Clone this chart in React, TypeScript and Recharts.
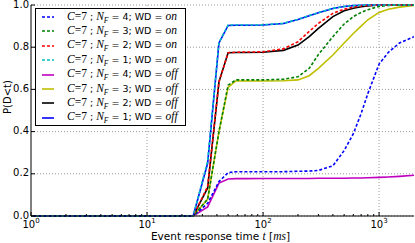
import React from 'react';
import { LineChart, Line, XAxis, YAxis, CartesianGrid, ReferenceLine } from 'recharts';

// event response time t [ms]
const times = [1, 25, 33.3, 41.7, 50, 58.3, 70, 100, 150, 200, 250, 300, 400, 500, 600, 700, 800, 1000, 1200, 1500, 2000];

// P(D<t), watchdog on (dashed)
const nf4On = [0, 0, 0.06, 0.163, 0.205, 0.21, 0.21, 0.21, 0.21, 0.212, 0.213, 0.216, 0.238, 0.31, 0.39, 0.485, 0.58, 0.72, 0.775, 0.82, 0.85];
const nf3On = [0, 0, 0.08, 0.4, 0.62, 0.645, 0.645, 0.645, 0.648, 0.66, 0.7, 0.765, 0.85, 0.91, 0.945, 0.965, 0.978, 0.993, 0.998, 1, 1];
const nf2On = [0, 0, 0.14, 0.636, 0.774, 0.776, 0.777, 0.778, 0.792, 0.826, 0.875, 0.913, 0.96, 0.98, 0.99, 0.996, 0.998, 1, 1, 1, 1];
const nf1On = [0, 0, 0.26, 0.823, 0.905, 0.905, 0.905, 0.906, 0.913, 0.932, 0.95, 0.964, 0.984, 0.993, 0.997, 0.999, 1, 1, 1, 1, 1];

// P(D<t), watchdog off (solid)
const nf4Off = [0, 0, 0.043, 0.156, 0.175, 0.177, 0.177, 0.178, 0.178, 0.178, 0.178, 0.179, 0.179, 0.179, 0.18, 0.18, 0.181, 0.183, 0.185, 0.188, 0.193];
const nf3Off = [0, 0, 0.08, 0.4, 0.61, 0.64, 0.64, 0.64, 0.641, 0.645, 0.665, 0.7, 0.763, 0.82, 0.865, 0.9, 0.93, 0.965, 0.98, 0.99, 0.998];
const nf2Off = [0, 0, 0.133, 0.636, 0.774, 0.775, 0.775, 0.776, 0.785, 0.81, 0.85, 0.889, 0.945, 0.973, 0.985, 0.992, 0.996, 1, 1, 1, 1];
const nf1Off = [0, 0, 0.25, 0.82, 0.903, 0.904, 0.904, 0.905, 0.912, 0.931, 0.949, 0.963, 0.983, 0.993, 0.997, 0.999, 1, 1, 1, 1, 1];

const majorTicks = [1, 10, 100, 1000];
const minorTicks = [2, 3, 4, 5, 6, 7, 8, 9, 20, 30, 40, 50, 60, 70, 80, 90, 200, 300, 400, 500, 600, 700, 800, 900];
const allXTicks = [...majorTicks, ...minorTicks].sort((a, b) => a - b);
const yTicks = [0, 0.2, 0.4, 0.6, 0.8, 1.0];

const series = [
    { key: 'nf4On', nf: 4, wd: 'on', color: '#0000ff', dashed: true, values: nf4On },
    { key: 'nf3On', nf: 3, wd: 'on', color: '#008000', dashed: true, values: nf3On },
    { key: 'nf2On', nf: 2, wd: 'on', color: '#ff0000', dashed: true, values: nf2On },
    { key: 'nf1On', nf: 1, wd: 'on', color: '#00bfbf', dashed: true, values: nf1On },
    { key: 'nf4Off', nf: 4, wd: 'off', color: '#bf00bf', dashed: false, values: nf4Off },
    { key: 'nf3Off', nf: 3, wd: 'off', color: '#bfbf00', dashed: false, values: nf3Off },
    { key: 'nf2Off', nf: 2, wd: 'off', color: '#000000', dashed: false, values: nf2Off },
    { key: 'nf1Off', nf: 1, wd: 'off', color: '#0000ff', dashed: false, values: nf1Off },
];

const data = times.map((t, i) => {
    const row: any = { t };
    series.forEach((s) => { row[s.key] = s.values[i]; });
    return row;
});

const SANS = 'DejaVu Sans, sans-serif';
const MATH = 'Liberation Serif, DejaVu Serif, serif';
const DASH = '3 2';
const GRID = '#999';

const BottomTick = ({ x, y, payload }: any) => {
    const major = majorTicks.includes(payload.value);
    return (
        <g>
            <line x1={x} y1={y} x2={x} y2={y - (major ? 4 : 2)} stroke="#000" />
            {major && (
                <text x={x} y={y + 12} textAnchor="middle" fontSize={10} fontFamily={SANS} fill="#000">
                    10<tspan dy={-5} fontSize={7}>{Math.round(Math.log10(payload.value))}</tspan>
                </text>
            )}
        </g>
    );
};

const TopTick = ({ x, y, payload }: any) => {
    const major = majorTicks.includes(payload.value);
    return <line x1={x} y1={y} x2={x} y2={y + (major ? 4 : 2)} stroke="#000" />;
};

const LeftTick = ({ x, y, payload }: any) => (
    <g>
        <line x1={x} y1={y} x2={x + 4} y2={y} stroke="#000" />
        <text x={x - 2} y={y} dy="0.25em" textAnchor="end" fontSize={10} fontFamily={SANS} fill="#000">
            {payload.value.toFixed(1)}
        </text>
    </g>
);

const RightTick = ({ x, y }: any) => <line x1={x} y1={y} x2={x - 4} y2={y} stroke="#000" />;

const XLabel = ({ viewBox }: any) => {
    const cx = viewBox.x + viewBox.width / 2;
    return (
        <text x={cx - 2} y={240} textAnchor="middle" fontSize={10.5} fontFamily={SANS} fill="#000">
            Event response time <tspan fontFamily={MATH} fontStyle="italic" fontSize={11.5}>t</tspan> [<tspan fontFamily={MATH} fontStyle="italic" fontSize={11.5}>ms</tspan>]
        </text>
    );
};

const YLabel = () => (
    <text x={11} y={97} transform="rotate(-90 11 97)" textAnchor="middle" fontSize={10} fontFamily={SANS} fill="#000">
        P(D&lt;t)
    </text>
);

const LegendBox = () => (
    <div style={{
        position: 'absolute', left: 35, top: 8, width: 151, height: 118,
        border: '1px solid #000', background: '#fff', boxSizing: 'border-box',
        fontFamily: SANS, fontSize: 9.5, color: '#000',
    }}>
        {series.map((s, i) => (
            <div key={s.key} style={{ position: 'absolute', left: 6, top: 1 + i * 14.4, height: 14, display: 'flex', alignItems: 'center', whiteSpace: 'nowrap' }}>
                <svg width={12} height={4} style={{ marginRight: 13 }}>
                    <line x1={0} y1={2} x2={12} y2={2} stroke={s.color} strokeWidth={1.6} strokeDasharray={s.dashed ? DASH : undefined} />
                </svg>
                <span>
                    <span style={{ fontFamily: MATH, fontStyle: 'italic', fontSize: 11.5 }}>C</span>
                    <span style={{ fontFamily: MATH, fontSize: 11.5 }}>=7</span> ;{' '}
                    <span style={{ fontFamily: MATH, fontStyle: 'italic', fontSize: 11.5 }}>N</span>
                    <sub style={{ fontFamily: MATH, fontStyle: 'italic', fontSize: 7.5 }}>F</sub> = {s.nf}; WD ={' '}
                    <span style={{ fontFamily: MATH, fontStyle: 'italic', fontSize: 11.5 }}>{s.wd}</span>
                </span>
            </div>
        ))}
    </div>
);

export default function App() {
    const drawOrder = [...series.filter((s) => !s.dashed), ...series.filter((s) => s.dashed)];
    return (
        <div style={{ position: 'absolute', left: 0, top: 0, width: 415, height: 243, background: '#fff' }}>
            <LineChart width={415} height={243} data={data} margin={{ top: 5, right: 1, bottom: 0, left: 0 }}>
                <CartesianGrid stroke={GRID} strokeDasharray="1 2" vertical={false} />
                {[10, 100, 1000].map((v) => (
                    <ReferenceLine key={v} x={v} stroke={GRID} strokeDasharray="1 2" />
                ))}
                <XAxis dataKey="t" type="number" scale="log" domain={[1, 2000]} allowDataOverflow ticks={allXTicks}
                    interval={0} height={27} tickSize={0} tickMargin={0} tickLine={false} tick={<BottomTick />}
                    axisLine={{ stroke: '#000' }} label={<XLabel />} />
                <XAxis xAxisId="top" orientation="top" type="number" scale="log" domain={[1, 2000]} allowDataOverflow
                    ticks={allXTicks} interval={0} height={0} tickSize={0} tickMargin={0} tickLine={false}
                    tick={<TopTick />} axisLine={{ stroke: '#000' }} />
                <YAxis type="number" domain={[0, 1]} ticks={yTicks} interval={0} width={31} tickSize={0} tickMargin={0}
                    tickLine={false} tick={<LeftTick />} axisLine={{ stroke: '#000' }} label={<YLabel />} />
                <YAxis yAxisId="right" orientation="right" type="number" domain={[0, 1]} ticks={yTicks} interval={0} width={0}
                    tickSize={0} tickMargin={0} tickLine={false} tick={<RightTick />} axisLine={{ stroke: '#000' }} />
                {drawOrder.map((s) => (
                    <Line key={s.key} dataKey={s.key} type="linear" stroke={s.color} strokeWidth={1.6}
                        strokeDasharray={s.dashed ? DASH : undefined} dot={false} activeDot={false} isAnimationActive={false} />
                ))}
            </LineChart>
            <LegendBox />
        </div>
    );
}
